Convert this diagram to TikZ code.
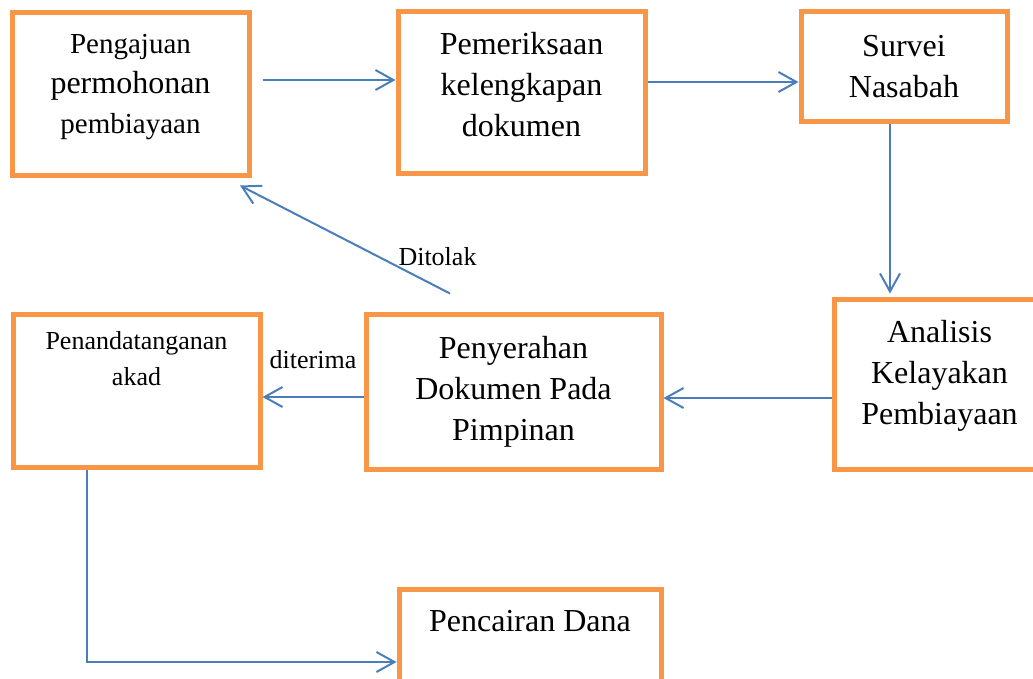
\documentclass[tikz,border=0pt]{standalone}
\usepackage{fontspec}
\setmainfont{Liberation Serif}
\usetikzlibrary{arrows.meta}
\definecolor{boxorange}{HTML}{F79646}
\definecolor{flowblue}{HTML}{4A7EBB}
\newcommand{\bigtxt}{\fontsize{32}{41}\selectfont}
\newcommand{\midtxt}{\fontsize{29}{39}\selectfont}
\newcommand{\smalltxt}{\fontsize{26}{36}\selectfont}

\begin{document}
\begin{tikzpicture}[x=1pt,y=-1pt,
  box/.style={draw=boxorange,line width=5pt,inner sep=0pt},
  txt/.style={anchor=north,align=center,inner sep=0pt,font=\bigtxt},
  flow/.style={color=flowblue,line width=2pt,-{Straight Barb[length=18pt,width=20pt]}}]
\path[use as bounding box,clip] (0,0) rectangle (1033,678);
% process boxes
\node[box,minimum width=237pt,minimum height=163pt,
  label={[txt,yshift=-25pt,font=\fontsize{32}{40}\selectfont]north:{\midtxt Pengajuan}\\permohonan\\{\midtxt pembiayaan}}] (b1) at (130.5,93.5) {};
\node[box,minimum width=247pt,minimum height=162pt,
  label={[txt,yshift=-24pt]north:Pemeriksaan\\kelengkapan\\dokumen}] (b2) at (521.5,92) {};
\node[box,minimum width=206pt,minimum height=110pt,
  label={[txt,yshift=-27pt]north:Survei\\Nasabah}] (b3) at (904,66) {};
\node[box,minimum width=211pt,minimum height=170pt,
  label={[txt,yshift=-24pt]north:Analisis\\Kelayakan\\Pembiayaan}] (b4) at (939.5,384) {};
\node[box,minimum width=295pt,minimum height=155pt,
  label={[txt,yshift=-25pt]north:Penyerahan\\Dokumen Pada\\Pimpinan}] (b5) at (513.5,391.5) {};
\node[box,minimum width=247pt,minimum height=153pt,
  label={[txt,yshift=-20pt,font=\smalltxt]north:Penandatanganan\\akad}] (b6) at (136.5,390.5) {};
\node[box,minimum width=262pt,minimum height=131pt,
  label={[txt,yshift=-24pt]north:Pencairan Dana}] (b7) at (530,654.5) {};
% flow
\path[flow,font=\smalltxt]
  ([yshift=13.5pt]b1.east) edge[shorten <=11pt] ([yshift=12pt]b2.west)
  ([yshift=10pt]b2.east) edge ([yshift=-16pt]b3.west)
  ([xshift=-14pt]b3.south) edge ([xshift=-49.5pt,yshift=3pt]b4.north)
  ([yshift=-14pt]b4.west) edge ([yshift=-6.5pt]b5.east)
  ([yshift=-5.5pt]b5.west) edge node[above=27pt,inner sep=0pt,text=black] (ok) {diterima} ([yshift=-6.5pt]b6.east)
  ([xshift=-63.5pt,yshift=18pt]b5.north) edge node[pos=0.25,anchor=south west,inner sep=0pt,text=black] (no) {Ditolak} ([xshift=109.5pt,yshift=-8pt]b1.south);
\draw[flow] ([xshift=-49.5pt]b6.south) |- ([yshift=-7.5pt]b7.west);
\end{tikzpicture}
\end{document}
